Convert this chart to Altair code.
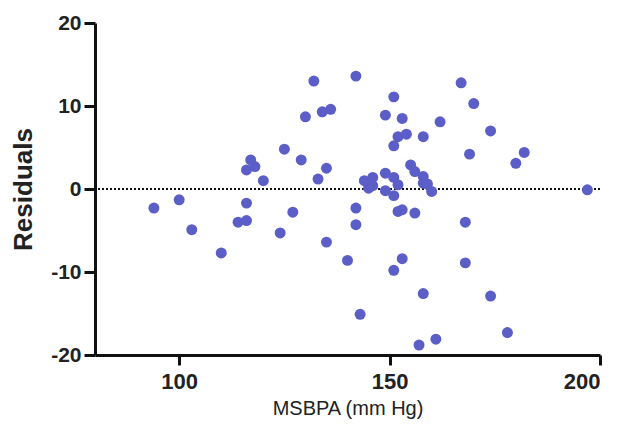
import altair as alt
import pandas as pd

msbpa = [94, 100, 103, 110, 114, 116, 116, 116, 117, 118, 120, 124, 125, 127, 129, 130,
         132, 133, 134, 135, 135, 136, 140, 142, 142, 142, 143, 144, 145, 145, 146, 146,
         149, 149, 149, 151, 151, 151, 151, 151, 152, 152, 152, 153, 153, 153, 154, 155,
         156, 156, 157, 158, 158, 158, 158, 159, 160, 161, 162, 167, 168, 168, 169, 170,
         174, 174, 178, 180, 182, 197]
residuals = [-2.3, -1.3, -4.9, -7.7, -4.0, -3.8, -1.7, 2.3, 3.5, 2.7, 1.0, -5.3, 4.8, -2.8,
             3.5, 8.7, 13.0, 1.2, 9.3, 2.5, -6.4, 9.6, -8.6, 13.6, -2.3, -4.3, -15.1, 1.0,
             0.7, 0.1, 1.4, 0.4, 8.9, 1.9, -0.2, 11.1, 5.2, 1.4, -0.8, -9.8, 6.3, 0.5, -2.7,
             8.5, -2.5, -8.4, 6.6, 2.9, 2.1, -2.9, -18.8, 6.3, 1.5, 0.7, -12.6, 0.6, -0.3,
             -18.1, 8.1, 12.8, -4.0, -8.9, 4.2, 10.3, 7.0, -12.9, -17.3, 3.1, 4.4, -0.1]
x_ticks = [100, 150, 200]
y_ticks = [-20, -10, 0, 10, 20]

df = pd.DataFrame({"MSBPA": msbpa, "Residuals": residuals})

FONT = "Liberation Sans"

x_enc = alt.X("MSBPA:Q",
              scale=alt.Scale(domain=[80, 200], nice=False, zero=False),
              axis=alt.Axis(values=x_ticks, title="MSBPA (mm Hg)", grid=False,
                            labelExpr="'' + datum.value",
                            domainColor="#111", domainWidth=3, tickColor="#111",
                            tickWidth=3, tickSize=10, labelPadding=6,
                            labelFont=FONT, labelFontSize=22, labelFontWeight="bold",
                            labelColor="#222", titleFont=FONT, titleFontSize=20,
                            titleFontWeight="normal", titleColor="#222",
                            titlePadding=6))
y_enc = alt.Y("Residuals:Q",
              scale=alt.Scale(domain=[-20, 20], nice=False),
              axis=alt.Axis(values=y_ticks, title="Residuals", grid=False,
                            labelExpr="'' + datum.value",
                            domainColor="#111", domainWidth=3, tickColor="#111",
                            tickWidth=3, tickSize=11, labelPadding=3,
                            labelFont=FONT, labelFontSize=21, labelFontWeight="bold",
                            labelColor="#222", titleFont=FONT, titleFontSize=26,
                            titleFontWeight="bold", titleColor="#222",
                            titlePadding=14))

points = alt.Chart(df).mark_circle(size=120, color="#5b5ec6", opacity=1).encode(
    x=x_enc, y=y_enc)

zero = alt.Chart(df).mark_rule(color="#111", strokeDash=[2, 2], strokeWidth=1.5).encode(
    y=alt.datum(0))

chart = alt.layer(zero, points).properties(
    width=505, height=332,
    autosize=alt.AutoSizeParams(type="none"),
    padding={"left": 87, "top": 15, "right": 23, "bottom": 67},
).configure_view(stroke=None)

chart.save("out.html", embed_options={"renderer": "svg", "actions": False})
